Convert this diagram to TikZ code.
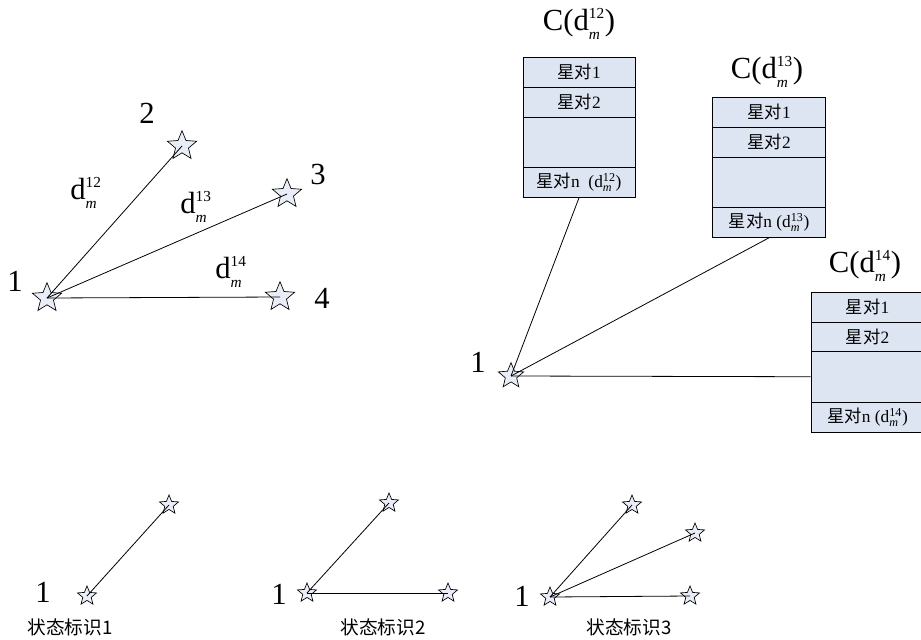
\documentclass[tikz,border=0pt]{standalone}
\usepackage{fontspec}
\usepackage{amsmath}
\setmainfont{Liberation Serif}
\newfontfamily\cjk{Noto Sans CJK SC}
\usetikzlibrary{shapes.geometric}
\definecolor{starfill}{RGB}{232,237,247}
\definecolor{boxfill}{RGB}{221,229,243}
\newcommand\dmbig[1]{d$^{\scriptscriptstyle\text{#1}}_{\scriptscriptstyle\text{\itshape m}}$}
\newcommand\dmsmall[1]{d$^{\scriptstyle\text{#1}}_{\scriptstyle\text{\itshape m}}$}
\tikzset{
  bigstar/.style={star, star points=5, star point ratio=2.25, minimum size=23pt, inner sep=0pt, draw=black, fill=starfill, line width=0.5pt},
  midstar/.style={bigstar, minimum size=20pt},
  smallstar/.style={bigstar, minimum size=15pt},
  numlabel/.style={font=\fontsize{23}{25}\selectfont, inner sep=0pt},
  dlabel/.style={font=\fontsize{23}{26}\selectfont, inner sep=0pt},
  boxrow/.style={rectangle, draw=black, fill=boxfill, line width=0.6pt, anchor=north, inner sep=0pt, font=\fontsize{13}{15}\selectfont},
  link/.style={draw=black, line width=0.6pt},
  statelabel/.style={font=\cjk\fontsize{14}{16}\selectfont, inner sep=0pt}
}
\begin{document}
\begin{tikzpicture}[x=0.75pt,y=-0.75pt]
\useasboundingbox (0,0) rectangle (921,639);
% ---------- top-left ----------
\node[bigstar] (a1) at (47,298) {};
\node[bigstar] (a2) at (182,146) {};
\node[bigstar] (a3) at (287,194) {};
\node[bigstar] (a4) at (280,297) {};
\draw[link] (a1.center) -- (a2.center);
\draw[link] (a1.center) -- (a3.center);
\draw[link] (a1.center) -- (a4.center);
\node[numlabel] (la1) at (15,281) {1};
\node[numlabel] (la2) at (147,113) {2};
\node[numlabel] (la3) at (318,174) {3};
\node[numlabel] (la4) at (322,298) {4};
\node[dlabel] (d12) at (86,193) {\dmbig{12}};
\node[dlabel] (d13) at (196,207) {\dmbig{13}};
\node[dlabel] (d14) at (231,272) {\dmbig{14}};
% ---------- top-right ----------
\node[dlabel] (t1) at (579,24) {C(\dmbig{12})};
\node[boxrow, minimum width=84pt, minimum height=22.5pt] (b1r1) at (579,57) {{\cjk 星对}1};
\node[boxrow, minimum width=84pt, minimum height=22.5pt] (b1r2) at (579,87) {{\cjk 星对}2};
\node[boxrow, minimum width=84pt, minimum height=37.5pt] (b1r3) at (579,117) {};
\node[boxrow, minimum width=84pt, minimum height=22.5pt] (b1r4) at (579,167) {{\cjk 星对}n\ \ (\dmsmall{12})};

\node[dlabel] (t2) at (767,72) {C(\dmbig{13})};
\node[boxrow, minimum width=84.75pt, minimum height=22.5pt] (b2r1) at (769,97) {{\cjk 星对}1};
\node[boxrow, minimum width=84.75pt, minimum height=22.5pt] (b2r2) at (769,127) {{\cjk 星对}2};
\node[boxrow, minimum width=84.75pt, minimum height=37.5pt] (b2r3) at (769,157) {};
\node[boxrow, minimum width=84.75pt, minimum height=22.5pt] (b2r4) at (769,207) {{\cjk 星对}n (\dmsmall{13})};

\node[dlabel] (t3) at (865,266) {C(\dmbig{14})};
\node[boxrow, minimum width=84.75pt, minimum height=22.5pt] (b3r1) at (867.5,292) {{\cjk 星对}1};
\node[boxrow, minimum width=84.75pt, minimum height=22pt] (b3r2) at (867.5,322) {{\cjk 星对}2};
\node[boxrow, minimum width=84.75pt, minimum height=38pt] (b3r3) at (867.5,351) {};
\node[boxrow, minimum width=84.75pt, minimum height=22.5pt] (b3r4) at (867.5,402) {{\cjk 星对}n (\dmsmall{14})};

\node[midstar] (r1) at (511,376) {};
\node[numlabel] (lr1) at (478,362) {1};
\draw[link] (r1.center) -- (b1r4.south);
\draw[link] (r1.center) -- (b2r4.south);
\draw[link] (r1.center) -- (b3r3.west);
% ---------- bottom ----------
\node[smallstar] (p1) at (87,596) {};
\node[smallstar] (p2) at (169,505) {};
\draw[link] (p1.center) -- (p2.center);
\node[numlabel] (lp1) at (43,592) {1};
\node[statelabel] (s1) at (70,627) {状态标识1};

\node[smallstar] (q1) at (307,593) {};
\node[smallstar] (q2) at (389,503) {};
\node[smallstar] (q3) at (448,593) {};
\draw[link] (q1.center) -- (q2.center);
\draw[link] (q1.center) -- (q3.center);
\node[numlabel] (lq1) at (279,594) {1};
\node[statelabel] (s2) at (383,627) {状态标识2};

\node[smallstar] (u1) at (550,597) {};
\node[smallstar] (u2) at (632,505) {};
\node[smallstar] (u3) at (695,533) {};
\node[smallstar] (u4) at (690,596) {};
\draw[link] (u1.center) -- (u2.center);
\draw[link] (u1.center) -- (u3.center);
\draw[link] (u1.center) -- (u4.center);
\node[numlabel] (lu1) at (522,596) {1};
\node[statelabel] (s3) at (629,627) {状态标识3};
\end{tikzpicture}
\end{document}
